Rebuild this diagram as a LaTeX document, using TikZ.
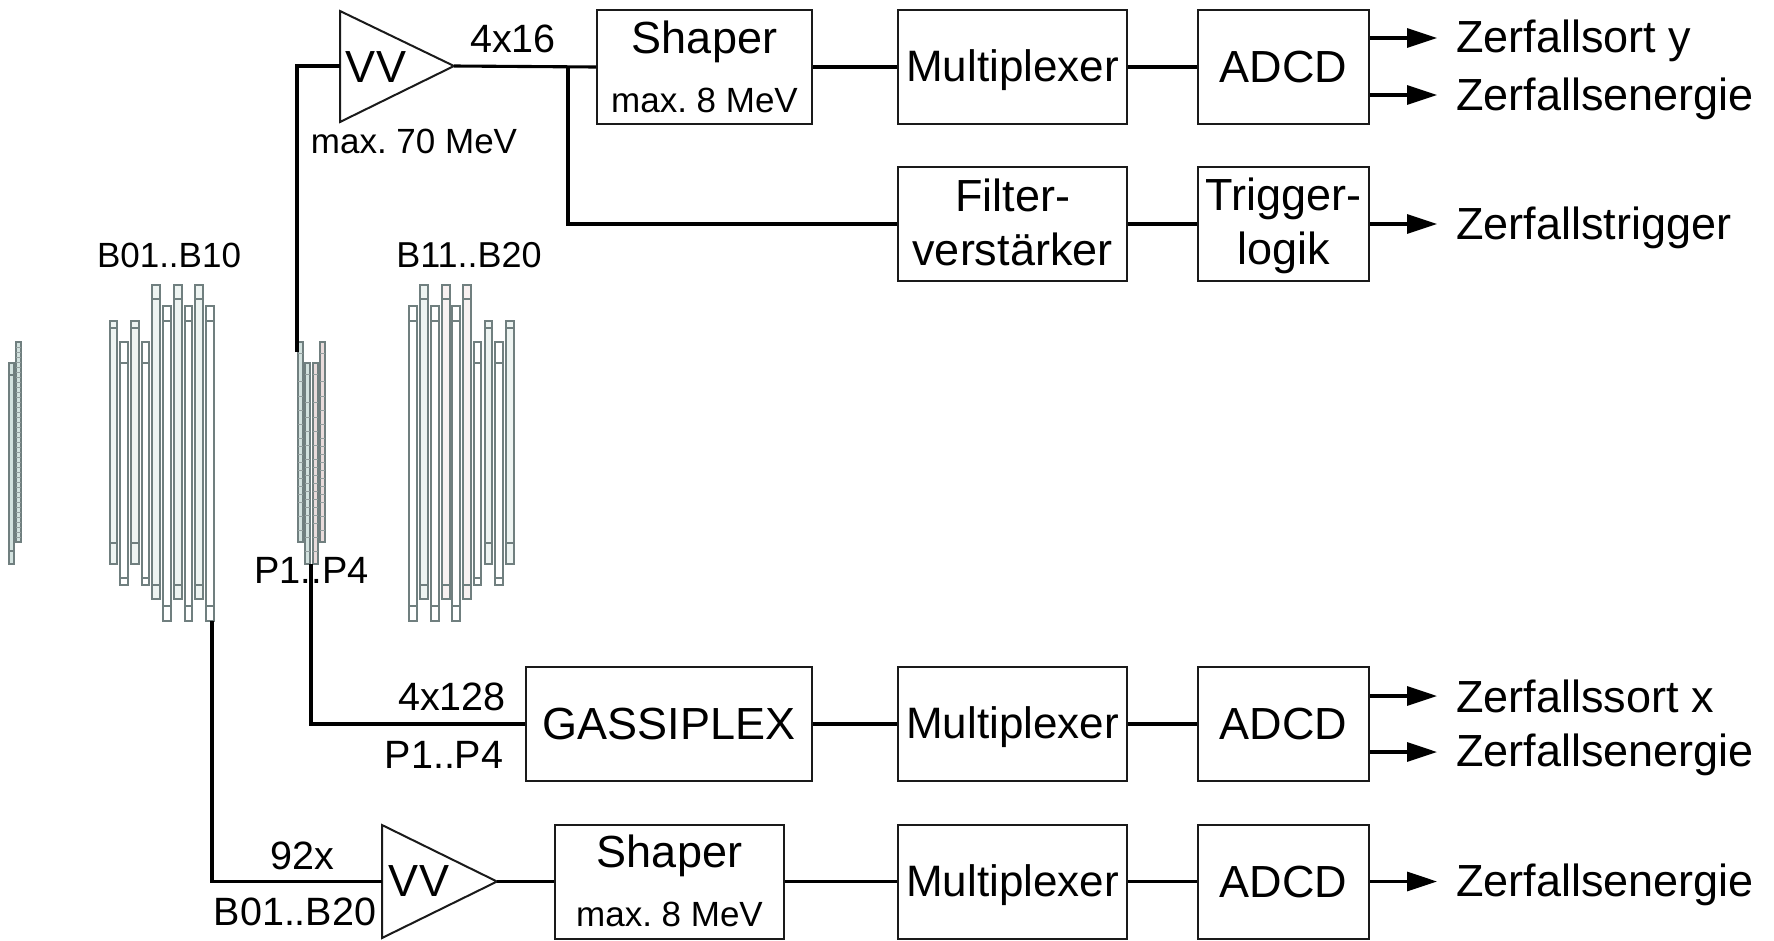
\documentclass[tikz,border=0pt]{standalone}
\usepackage{fontspec}
\setmainfont{Liberation Sans}
\usetikzlibrary{arrows.meta}
\definecolor{ink}{HTML}{1A1A1A}
\definecolor{stripline}{HTML}{707F7F}
\definecolor{stripteal}{HTML}{D3E2DF}
\definecolor{strippale}{HTML}{EEF4F2}
\definecolor{strippink}{HTML}{EADCDC}
\definecolor{strippalepink}{HTML}{F8F1F1}
\tikzset{
  blockbox/.style={draw=ink,line width=2pt,fill=white,inner sep=0pt,align=center,font=\fontsize{45}{54}\selectfont},
  muxbox/.style={blockbox,minimum width=229pt,minimum height=114pt,text depth=2pt,font=\fontsize{44}{54}\selectfont},
  wire/.style={draw=black,line width=3.1pt},
  flowarrow/.style={draw=black,line width=3.1pt,-{Triangle[length=30pt,width=19pt]}},
  bigtext/.style={inner sep=0pt,align=center,font=\fontsize{45}{54}\selectfont},
  midtext/.style={inner sep=0pt,font=\fontsize{39.5}{48}\selectfont},
  smalltext/.style={inner sep=0pt,font=\fontsize{35}{42}\selectfont},
  amp/.style={draw=ink,line width=2pt,fill=white,line join=miter},
  stripmark/.style={draw=stripline,line width=1.1pt},
}
% [fill] x0 x1 y0 y1 top-mark bottom-mark
\newcommand{\stripbar}[7][white]{%
  \path[draw=stripline,line width=1.5pt,fill=#1] (#2,#4) rectangle (#3,#5);
  \draw[stripmark] (#2,#6) -- (#3,#6) (#2,#7) -- (#3,#7);
}
\newcommand{\thinbar}[5]{%
  \path[draw=stripline,line width=1.2pt,fill=#5] (#1,#3) rectangle (#2,#4);
  \foreach \ty in {353,381,396,410,424,438,446,454,462,470,478,486,494,502,516,530}{
    \draw[stripline!75,line width=0.7pt] (#1,{\ty+(#3-342)}) -- (#2,{\ty+(#3-342)});
  }
}
\begin{document}
\frenchspacing
\begin{tikzpicture}[x=1pt,y=-1pt]
\useasboundingbox (0,0) rectangle (1774,940);

% detector strips: left pair
\stripbar[stripteal]{9}{14}{363}{564}{375}{551}
\path[draw=stripline,line width=1.2pt,fill=stripteal] (16,342) rectangle (21,542);
\foreach \ty in {347,352,...,540}{\draw[stripline!75,line width=0.7pt] (16,\ty) -- (21,\ty);}
% B01..B10
\stripbar[strippale]{110}{117}{321}{564}{328}{543}
\stripbar{120}{128}{342}{585}{363}{578}
\stripbar[strippale]{131}{139}{321}{564}{328}{543}
\stripbar{142}{149}{342}{585}{363}{578}
\stripbar[strippale]{152}{160}{285}{599}{299}{585}
\stripbar{163}{171}{306}{621}{321}{606}
\stripbar[strippale]{174}{182}{285}{599}{299}{585}
\stripbar{185}{192}{306}{621}{321}{606}
\stripbar[strippale]{195}{203}{285}{599}{299}{585}
\stripbar{206}{214}{306}{621}{321}{606}
% B11..B20
\stripbar{409}{417}{306}{621}{321}{606}
\stripbar[strippale]{420}{428}{285}{599}{299}{585}
\stripbar{431}{439}{306}{621}{321}{606}
\stripbar[strippalepink]{442}{450}{285}{599}{299}{585}
\stripbar{452}{460}{306}{621}{321}{606}
\stripbar[strippalepink]{463}{471}{285}{599}{299}{585}
\stripbar{474}{481}{342}{585}{363}{578}
\stripbar[strippale]{485}{492}{321}{564}{328}{543}
\stripbar{495}{503}{342}{585}{363}{578}
\stripbar[strippale]{506}{514}{321}{564}{328}{543}
% P1..P4
\thinbar{298}{303}{342}{542}{stripteal}
\thinbar{305}{310}{363}{564}{stripteal}
\thinbar{313}{318}{363}{564}{strippink}
\thinbar{320}{325}{342}{542}{strippink}

% top row
\node[blockbox,minimum width=215pt,minimum height=114pt] (shaperA) at (704.5,67) {};
\node[smalltext] (shaperAb) at (704.5,100) {max. 8 MeV};
\node[bigtext] (shaperAt) at (704.5,41.5) {Shaper};
\node[muxbox] (muxA) at (1012.5,67) {Multiplexer};
\node[blockbox,minimum width=171pt,minimum height=114pt] (adcA) at (1283.5,67) {ADCD};
\node[blockbox,minimum width=229pt,minimum height=114pt] (filter) at (1012.5,224) {};
\node[bigtext] (filtert) at (1012.5,222) {Filter-\\verstärker};
\node[blockbox,minimum width=171pt,minimum height=114pt] (trig) at (1283.5,224) {};
\node[bigtext] (trigt) at (1283.5,226) {Trigger-\\logik};
% lower rows
\node[blockbox,minimum width=286pt,minimum height=114pt] (gassi) at (669,724) {GASSIPLEX};
\node[muxbox] (muxB) at (1012.5,724) {Multiplexer};
\node[blockbox,minimum width=171pt,minimum height=114pt] (adcB) at (1283.5,724) {ADCD};
\node[blockbox,minimum width=229pt,minimum height=114pt] (shaperC) at (669.5,881.5) {};
\node[bigtext] (shaperCt) at (669.5,856) {Shaper};
\node[smalltext] (shaperCb) at (669.5,914) {max. 8 MeV};
\node[muxbox] (muxC) at (1012.5,881.5) {Multiplexer};
\node[blockbox,minimum width=171pt,minimum height=114pt] (adcC) at (1283.5,881.5) {ADCD};

% amplifiers
\coordinate (vvAa) at (340,11);
\coordinate (vvAb) at (340,122);
\coordinate (vvAtip) at (454,66);
\coordinate (vvAin) at (340,66);
\path[amp] (vvAa) -- (vvAb) -- (vvAtip) -- cycle;
\node[bigtext] (vvAt) at (376,67) {VV};
\coordinate (vvBa) at (382,825);
\coordinate (vvBb) at (382,938);
\coordinate (vvBtip) at (497,881.5);
\coordinate (vvBin) at (382,881.5);
\path[amp] (vvBa) -- (vvBb) -- (vvBtip) -- cycle;
\node[bigtext] (vvBt) at (419,881) {VV};

% labels
\node[smalltext] (lblB1) at (169,255) {B01..B10};
\node[smalltext,font=\fontsize{36}{42}\selectfont] (lblB2) at (469,255) {B11..B20};
\node[midtext,font=\fontsize{38}{46}\selectfont] (lblP) at (311.5,570) {P1..P4};
\node[smalltext] (lbl70) at (414,141) {max. 70 MeV};
\node[midtext] (lbl416) at (513,39) {4x16};
\node[midtext] (lbl4128) at (452,697) {4x128};
\node[midtext] (lblP2) at (444,755) {P1..P4};
\node[midtext] (lbl92) at (302,856) {92x};
\node[midtext] (lblB3) at (295,912) {B01..B20};

% outputs
\node[bigtext,anchor=west] (o1) at (1456,41) {Zerfallsort y};
\node[bigtext,anchor=west] (o2) at (1456,98.5) {Zerfallsenergie};
\node[bigtext,anchor=west] (o3) at (1456,227.5) {Zerfallstrigger};
\node[bigtext,anchor=west] (o4) at (1456,696) {Zerfallssort x};
\node[bigtext,anchor=west] (o5) at (1456,755) {Zerfallsenergie};
\node[bigtext,anchor=west] (o6) at (1456,884.5) {Zerfallsenergie};

% connectors
\coordinate (pTop) at (297,352);
\coordinate (pBot) at (311,564);
\coordinate (bBot) at (212,621);
\coordinate (branch) at (568,66);
\coordinate (a1) at (1437,38);
\coordinate (a2) at (1437,95);
\coordinate (a3) at (1437,224);
\coordinate (a4) at (1437,696);
\coordinate (a5) at (1437,752);
\coordinate (a6) at (1437,881.5);
\draw[wire] (pTop) |- (vvAin);
\draw[wire] (vvAtip) -- (shaperA.west);
\draw[wire] (branch) |- (filter.west);
\draw[wire] (shaperA.east) -- (muxA.west);
\draw[wire] (muxA.east) -- (adcA.west);
\draw[wire] (filter.east) -- (trig.west);
\draw[wire] (pBot) |- (gassi.west);
\draw[wire] (gassi.east) -- (muxB.west);
\draw[wire] (muxB.east) -- (adcB.west);
\draw[wire] (bBot) |- (vvBin);
\draw[wire] (vvBtip) -- (shaperC.west);
\draw[wire] (shaperC.east) -- (muxC.west);
\draw[wire] (muxC.east) -- (adcC.west);
\draw[flowarrow] (adcA.east |- a1) -- (a1);
\draw[flowarrow] (adcA.east |- a2) -- (a2);
\draw[flowarrow] (trig.east) -- (a3);
\draw[flowarrow] (adcB.east |- a4) -- (a4);
\draw[flowarrow] (adcB.east |- a5) -- (a5);
\draw[flowarrow] (adcC.east) -- (a6);
\end{tikzpicture}
\end{document}
